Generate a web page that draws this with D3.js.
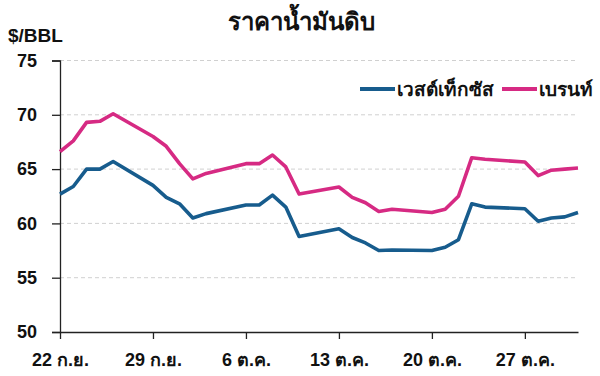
<!DOCTYPE html>
<html>
<head>
<meta charset="utf-8">
<script src="https://cdn.jsdelivr.net/npm/d3@7"></script>
<style>
  body { margin: 0; background: #fff; }
  svg { display: block; font-family: "Liberation Sans", Arial, "Noto Sans", sans-serif; }
</style>
</head>
<body>
<svg id="chart"></svg>
<script>
const dates = [
  "2025-09-22", "2025-09-23", "2025-09-24", "2025-09-25", "2025-09-26",
  "2025-09-29", "2025-09-30", "2025-10-01", "2025-10-02", "2025-10-03",
  "2025-10-06", "2025-10-07", "2025-10-08", "2025-10-09", "2025-10-10",
  "2025-10-13", "2025-10-14", "2025-10-15", "2025-10-16", "2025-10-17",
  "2025-10-20", "2025-10-21", "2025-10-22", "2025-10-23", "2025-10-24",
  "2025-10-27", "2025-10-28", "2025-10-29", "2025-10-30", "2025-10-31"
];
const wti = [
  62.7, 63.4, 65.0, 65.0, 65.7,
  63.5, 62.4, 61.8, 60.5, 60.9,
  61.7, 61.7, 62.6, 61.5, 58.8,
  59.5, 58.7, 58.2, 57.5, 57.55,
  57.5, 57.8, 58.5, 61.8, 61.5,
  61.35, 60.2, 60.5, 60.6, 61.0
];
const brent = [
  66.6, 67.6, 69.3, 69.4, 70.1,
  68.0, 67.1, 65.5, 64.1, 64.6,
  65.5, 65.5, 66.3, 65.2, 62.7,
  63.35, 62.4, 61.9, 61.1, 61.3,
  61.0, 61.3, 62.5, 66.05, 65.9,
  65.65, 64.4, 64.9, 65.0, 65.1
];
const tickDates = ["2025-09-22", "2025-09-29", "2025-10-06", "2025-10-13", "2025-10-20", "2025-10-27"];
const tickLabels = ["22 ก.ย.", "29 ก.ย.", "6 ต.ค.", "13 ต.ค.", "20 ต.ค.", "27 ต.ค."];
const yTicks = [50, 55, 60, 65, 70, 75];
const seriesNames = ["เวสต์เท็กซัส", "เบรนท์"];
const colors = ["#175c8d", "#d62a83"];

const width = 600;
const height = 376;
const margin = { top: 60.5, right: 22, bottom: 44, left: 60 };

const parse = d3.timeParse("%Y-%m-%d");

const svg = d3.select("#chart")
  .attr("width", width)
  .attr("height", height);

const x = d3.scaleTime()
  .domain([parse("2025-09-22"), parse("2025-10-31")])
  .range([margin.left, width - margin.right]);

const y = d3.scaleLinear()
  .domain([50, 75])
  .range([height - margin.bottom, margin.top]);

// gridlines
svg.append("g")
  .selectAll("line")
  .data(yTicks.filter(v => v > 50))
  .join("line")
  .attr("x1", margin.left)
  .attr("x2", width - margin.right)
  .attr("y1", d => y(d))
  .attr("y2", d => y(d))
  .attr("stroke", "#d0d0d0")
  .attr("stroke-width", 1)
  .attr("stroke-dasharray", "4,3");

// y axis
const yAxis = svg.append("g")
  .attr("transform", `translate(${margin.left},0)`)
  .call(d3.axisLeft(y).tickValues(yTicks).tickSize(8).tickPadding(15));
yAxis.select(".domain").attr("stroke", "#222").attr("stroke-width", 1.3);
yAxis.selectAll(".tick line").attr("stroke", "#222").attr("stroke-width", 1.3);
yAxis.selectAll("text")
  .attr("fill", "#111")
  .style("font-size", "18px")
  .style("font-weight", "bold");

// x axis
const xAxis = svg.append("g")
  .attr("transform", `translate(0,${height - margin.bottom})`)
  .call(d3.axisBottom(x)
    .tickValues(tickDates.map(parse))
    .tickFormat((d, i) => tickLabels[i])
    .tickSize(7)
    .tickSizeOuter(0)
    .tickPadding(14));
xAxis.select(".domain").attr("stroke", "#222").attr("stroke-width", 1.3);
xAxis.selectAll(".tick line").attr("stroke", "#222").attr("stroke-width", 1.3);
xAxis.selectAll("text")
  .attr("fill", "#111")
  .style("font-size", "18px")
  .style("font-weight", "bold");

// lines
const line = d3.line()
  .x((d, i) => x(parse(dates[i])))
  .y(d => y(d));

[wti, brent].forEach((values, k) => {
  svg.append("path")
    .datum(values)
    .attr("fill", "none")
    .attr("stroke", colors[k])
    .attr("stroke-width", 3.6)
    .attr("stroke-linejoin", "round")
    .attr("d", line);
});

// title
svg.append("text")
  .attr("x", 301)
  .attr("y", 30)
  .attr("text-anchor", "middle")
  .attr("fill", "#111")
  .style("font-size", "24px")
  .style("font-weight", "bold")
  .text("ราคาน้ำมันดิบ");

svg.append("text")
  .attr("x", 8)
  .attr("y", 42)
  .attr("fill", "#111")
  .style("font-size", "19px")
  .style("font-weight", "bold")
  .text("$/BBL");

// legend
const legendX = [360, 502];
seriesNames.forEach((name, k) => {
  const g = svg.append("g").attr("transform", `translate(${legendX[k]},89)`);
  g.append("line")
    .attr("x1", 0)
    .attr("x2", 35)
    .attr("stroke", colors[k])
    .attr("stroke-width", 4);
  g.append("text")
    .attr("x", 37)
    .attr("y", 7)
    .attr("fill", "#111")
    .style("font-size", "19px")
    .style("font-weight", "bold")
    .text(name);
});
</script>
</body>
</html>
